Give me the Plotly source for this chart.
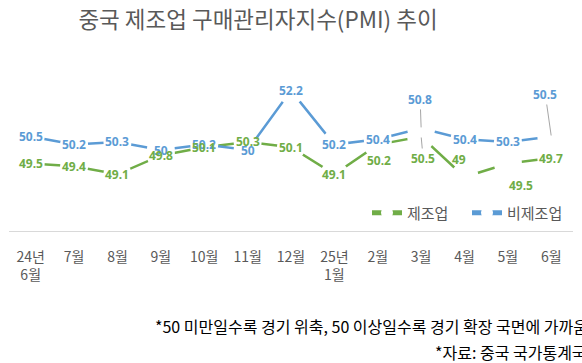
import plotly.graph_objects as go

# ---- data ----
categories = ["24년<br>6월", "7월", "8월", "9월", "10월", "11월", "12월",
              "25년<br>1월", "2월", "3월", "4월", "5월", "6월"]
manufacturing = [49.5, 49.4, 49.1, 49.8, 50.1, 50.3, 50.1, 49.1, 50.2, 50.5, 49.0, 49.5, 49.7]
non_manufacturing = [50.5, 50.2, 50.3, 50.0, 50.2, 50.0, 52.2, 50.2, 50.4, 50.8, 50.4, 50.3, 50.5]
series_names = ["제조업", "비제조업"]
title_text = "중국 제조업 구매관리자지수(PMI) 추이"
note1 = "*50 미만일수록 경기 위축, 50 이상일수록 경기 확장 국면에 가까움"
note2 = "*자료: 중국 국가통계국"

# ---- styles ----
GREEN = "#70AD47"
BLUE = "#5B9BD5"
GRAY = "#595959"
W, H = 582, 363
ML, MR, MT, MB = 9, 9, 42, 132
PW, PH = W - ML - MR, H - MT - MB
KFONT = "Noto Sans CJK KR"

# label offsets in pixels (dx, dy, leader line) for moved labels
green_moves = {8: (1, 16, False), 9: (2, 22, True), 10: (-6, -18, False), 11: (13, 22, False)}
blue_moves = {9: (-1, -29, True), 12: (-6, -42, True)}

fig = go.Figure()
for name, vals, col in [(series_names[0], manufacturing, GREEN),
                        (series_names[1], non_manufacturing, BLUE)]:
    fig.add_trace(go.Scatter(
        x=categories, y=vals, name=name, mode="lines+markers",
        line=dict(color=col, width=2.5),
        marker=dict(color="white", size=28, line=dict(width=0)),
        hoverinfo="skip",
    ))

annotations = []
for vals, col, moves in [(non_manufacturing, BLUE, blue_moves),
                         (manufacturing, GREEN, green_moves)]:
    for i, (c, v) in enumerate(zip(categories, vals)):
        dx, dy, leader = moves.get(i, (0, 0, False))
        a = dict(x=c, y=v, xref="x", yref="y", text=f"{v:g}",
                 font=dict(family="Noto Sans", size=12, color=col, weight="bold"))
        if leader:
            a.update(showarrow=True, ax=dx, ay=dy, axref="pixel", ayref="pixel",
                     arrowhead=0, arrowwidth=1, arrowcolor="#A6A6A6", standoff=1)
        else:
            a.update(showarrow=False, xshift=dx, yshift=-dy)
        annotations.append(a)


def px_x(p):
    return (p - ML) / PW


def px_y(p):
    return (H - MB - p) / PH


annotations.append(dict(text=note1, xref="paper", yref="paper", x=px_x(153), y=px_y(326),
                        xanchor="left", yanchor="middle", showarrow=False,
                        font=dict(family=KFONT, size=16, color="#000000")))
annotations.append(dict(text=note2, xref="paper", yref="paper", x=px_x(433), y=px_y(352),
                        xanchor="left", yanchor="middle", showarrow=False,
                        font=dict(family=KFONT, size=16, color="#000000")))

fig.update_layout(
    width=W, height=H,
    margin=dict(l=ML, r=MR, t=MT, b=MB, pad=0),
    paper_bgcolor="white", plot_bgcolor="white",
    title=dict(text=title_text, x=258 / W, xanchor="center", y=1 - 20 / H, yanchor="middle",
               font=dict(family=KFONT, size=22.5, color=GRAY)),
    xaxis=dict(type="category", range=[-0.5, len(categories) - 0.5], showgrid=False,
               showline=True, linecolor="#D9D9D9", linewidth=1, ticks="",
               ticklabelstandoff=13, zeroline=False,
               tickfont=dict(family=KFONT, size=14, color=GRAY)),
    yaxis=dict(range=[47, 54], visible=False, showgrid=False, zeroline=False),
    showlegend=True,
    legend=dict(orientation="h", x=px_x(367), xanchor="left", y=px_y(213), yanchor="middle",
                font=dict(family=KFONT, size=15, color=GRAY), itemsizing="constant",
                entrywidth=55, entrywidthmode="pixels",
                bgcolor="rgba(0,0,0,0)", traceorder="normal"),
    annotations=annotations,
)

fig.write_html("out.html", config={"displayModeBar": False},
               post_script="document.body.style.margin='0';document.body.style.overflow='hidden';")
